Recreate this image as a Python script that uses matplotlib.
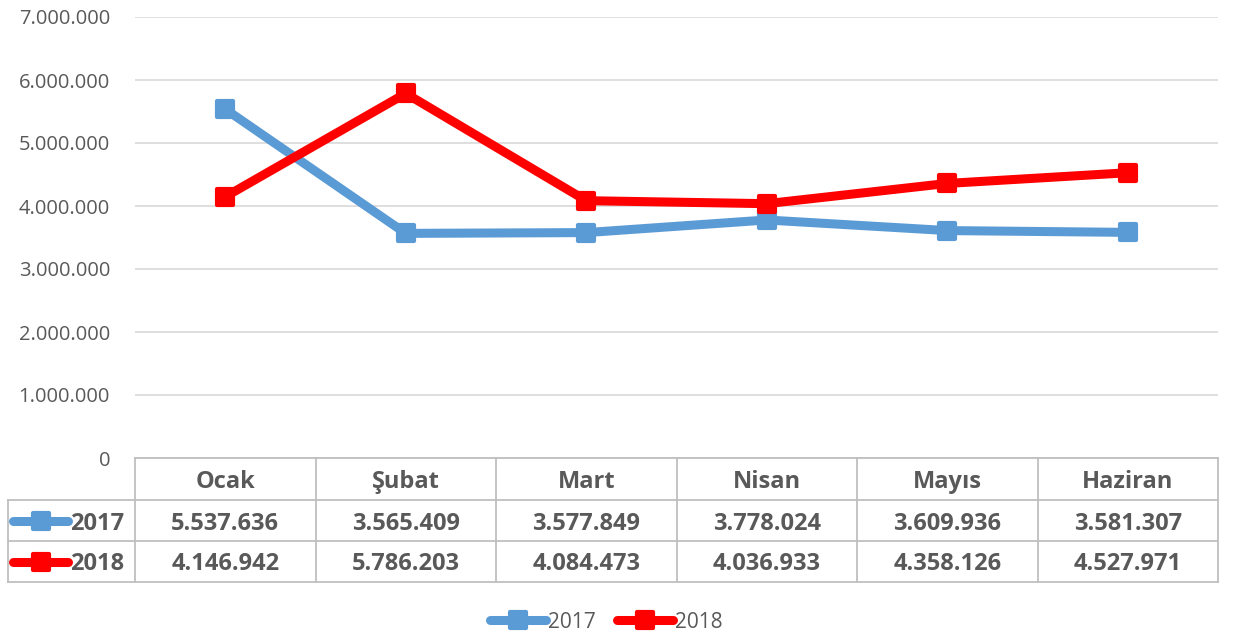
import matplotlib
matplotlib.use("Agg")
import matplotlib.pyplot as plt
from matplotlib.lines import Line2D
from matplotlib.markers import MarkerStyle
import matplotlib.transforms as mtransforms

months = ["Ocak", "Şubat", "Mart", "Nisan", "Mayıs", "Haziran"]
series_names = ["2017", "2018"]
values_2017 = [5537636, 3565409, 3577849, 3778024, 3609936, 3581307]
values_2018 = [4146942, 5786203, 4084473, 4036933, 4358126, 4527971]
colors = ["#5B9BD5", "#FF0000"]
yticks = [0, 1000000, 2000000, 3000000, 4000000, 5000000, 6000000, 7000000]

def fmt(v):
    return f"{v:,}".replace(",", ".")

plt.rcParams['font.family'] = ['Open Sans', 'DejaVu Sans']
W, H = 1237, 637
fig = plt.figure(figsize=(W / 100, H / 100), dpi=100)
ax = fig.add_axes([135 / W, 1 - 458 / H, (1218 - 135) / W, (458 - 17) / H])

text_color = "#595959"
grid_color = "#D9D9D9"
border_color = "#BFBFBF"
rsq = MarkerStyle("s", joinstyle="round")

for vals, c, name in zip([values_2017, values_2018], colors, series_names):
    ax.plot(range(len(months)), vals, color=c, lw=6.5, marker=rsq, ms=11, mew=3,
            markeredgecolor=c, markerfacecolor=c, solid_joinstyle="round",
            solid_capstyle="round", label=name, zorder=3)

ax.set_xlim(-0.5, len(months) - 0.5)
ax.set_ylim(0, 7000000)
ax.set_yticks(yticks)
ax.set_yticklabels([fmt(v) if v else "0" for v in yticks], color=text_color, fontsize=14.5)
ax.tick_params(axis="y", length=0, pad=18)
ax.tick_params(axis="x", length=0, labelbottom=False)
ax.grid(axis="y", color=grid_color, lw=1.2)
ax.set_axisbelow(True)
for s in ax.spines.values():
    s.set_visible(False)

# Data table below the axes
ppx = 1 / (458 - 17)  # axes-fraction per pixel vertically
row_edges_px = [458, 500, 541, 582]
row_y = [(0 - (r - 458)) * ppx for r in row_edges_px]
trans = mtransforms.blended_transform_factory(ax.transData, ax.transAxes)
ftrans = mtransforms.blended_transform_factory(fig.transFigure, ax.transAxes)
left_fig = 8 / W
n = len(months)
lkw = dict(color=border_color, lw=1.3, clip_on=False)
ax.plot([-0.5, n - 0.5], [row_y[0]] * 2, transform=trans, **lkw)
for yy in row_y[1:]:
    ax.add_line(Line2D([left_fig, 1218 / W], [yy, yy], transform=ftrans, **lkw))
for i in range(n + 1):
    ax.plot([i - 0.5, i - 0.5], [row_y[0], row_y[-1]], transform=trans, **lkw)
ax.add_line(Line2D([left_fig, left_fig], [row_y[1], row_y[-1]], transform=ftrans, **lkw))

def mid(a, b):
    return (a + b) / 2

toff = -3 * ppx
tfs = 17
for i, m in enumerate(months):
    ax.text(i, mid(row_y[0], row_y[1]) + toff, m, transform=trans, ha="center", va="center",
            fontsize=tfs, fontweight="bold", color=text_color)
for r, (vals, c, name) in enumerate(zip([values_2017, values_2018], colors, series_names)):
    yy = mid(row_y[r + 1], row_y[r + 2])
    for i, v in enumerate(vals):
        ax.text(i, yy + toff, fmt(v), transform=trans, ha="center", va="center",
                fontsize=tfs, fontweight="bold", color=text_color)
    ax.add_line(Line2D([13 / W, 68 / W], [yy, yy], transform=ftrans, color=c, lw=6.5,
                       solid_capstyle="round", clip_on=False))
    ax.add_line(Line2D([40.5 / W], [yy], transform=ftrans, color=c, marker=rsq, ms=11,
                       mew=3, mec=c, mfc=c, lw=0, clip_on=False))
    ax.text(70 / W, yy + toff, name, transform=ftrans, ha="left", va="center",
            fontsize=tfs, fontweight="bold", color=text_color)

leg = fig.legend(loc="center", bbox_to_anchor=(0.49, 1 - 622 / H), ncol=2, frameon=False,
                 fontsize=15, handlelength=2.7, handletextpad=0.1, columnspacing=1.0,
                 labelcolor=text_color)

fig.savefig("out.png", dpi=100)
